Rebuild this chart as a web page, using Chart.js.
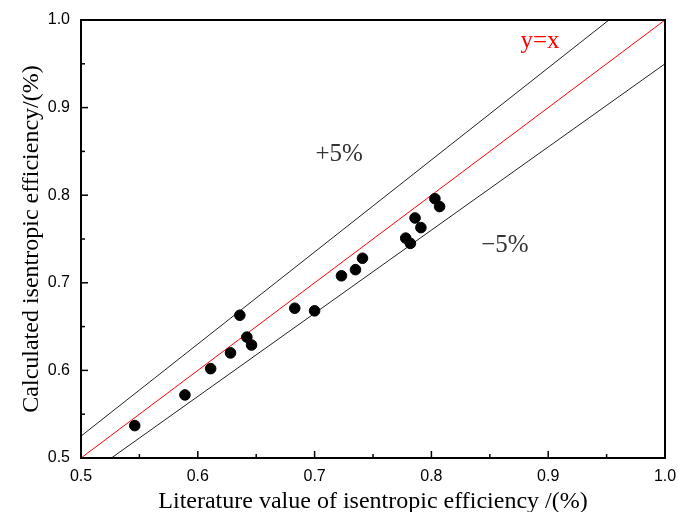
<!DOCTYPE html>
<html>
<head>
<meta charset="utf-8">
<script src="https://cdn.jsdelivr.net/npm/chart.js@4"></script>
<style>
    html, body { margin: 0; padding: 0; background: #fff; }
    #wrap { width: 678px; height: 512px; }
</style>
</head>
<body>
<div id="wrap"><canvas id="chart" width="678" height="512"></canvas></div>
<script>
// Literature vs calculated isentropic efficiency
const literature = [0.546, 0.589, 0.611, 0.628, 0.636, 0.642, 0.646, 0.683, 0.700, 0.723, 0.735, 0.741, 0.778, 0.782, 0.786, 0.791, 0.803, 0.807];
const calculated = [0.537, 0.572, 0.602, 0.620, 0.663, 0.638, 0.629, 0.671, 0.668, 0.708, 0.715, 0.728, 0.751, 0.745, 0.774, 0.763, 0.796, 0.787];

// reference lines: y = x, +5%, -5%
const diagX = [0.5, 1.0];
const diagY = [0.5, 1.0];
const plusX = [0.5, 0.952];
const plusY = [0.525, 1.0];
const minusX = [0.526, 1.0];
const minusY = [0.5, 0.95];

const xTicks = [0.5, 0.6, 0.7, 0.8, 0.9, 1.0];
const yTicks = [0.5, 0.6, 0.7, 0.8, 0.9, 1.0];
const minorTicks = [0.55, 0.65, 0.75, 0.85, 0.95];

// text labels placed in data coordinates
const notes = [
    { text: 'y=x', x: 0.893, y: 0.975, color: '#ff0000' },
    { text: '+5%', x: 0.721, y: 0.846, color: '#333' },
    { text: '\u22125%', x: 0.863, y: 0.743, color: '#333' }
];

const pts = (xs, ys) => xs.map((x, i) => ({ x: x, y: ys[i] }));

// frame, inward ticks and notes
const framePlugin = {
    id: 'frame',
    afterDraw(c) {
        const ctx = c.ctx;
        const a = c.chartArea;
        const xs = c.scales.x, ys = c.scales.y;
        ctx.save();
        ctx.strokeStyle = '#000';
        ctx.lineWidth = 1.5;
        xTicks.forEach(v => {
            const px = xs.getPixelForValue(v);
            ctx.beginPath(); ctx.moveTo(px, a.bottom); ctx.lineTo(px, a.bottom - 7); ctx.stroke();
        });
        minorTicks.forEach(v => {
            const px = xs.getPixelForValue(v);
            ctx.beginPath(); ctx.moveTo(px, a.bottom); ctx.lineTo(px, a.bottom - 4); ctx.stroke();
        });
        yTicks.forEach(v => {
            const py = ys.getPixelForValue(v);
            ctx.beginPath(); ctx.moveTo(a.left, py); ctx.lineTo(a.left + 7, py); ctx.stroke();
        });
        minorTicks.forEach(v => {
            const py = ys.getPixelForValue(v);
            ctx.beginPath(); ctx.moveTo(a.left, py); ctx.lineTo(a.left + 4, py); ctx.stroke();
        });
        ctx.lineWidth = 2;
        ctx.strokeRect(a.left, a.top, a.right - a.left, a.bottom - a.top);

        ctx.font = '25px "Liberation Serif", "Times New Roman", serif';
        ctx.textAlign = 'center';
        ctx.textBaseline = 'middle';
        notes.forEach(n => {
            ctx.fillStyle = n.color;
            ctx.fillText(n.text, xs.getPixelForValue(n.x), ys.getPixelForValue(n.y));
        });
        ctx.restore();
    }
};

const ctx = document.getElementById('chart').getContext('2d');
const chart = new Chart(ctx, {
    type: 'scatter',
    data: {
        datasets: [
            {
                label: 'y=x',
                data: pts(diagX, diagY),
                showLine: true,
                borderColor: '#ff0000',
                borderWidth: 1,
                pointRadius: 0,
                order: 3
            },
            {
                label: '+5%',
                data: pts(plusX, plusY),
                showLine: true,
                borderColor: '#222',
                borderWidth: 1,
                pointRadius: 0,
                order: 3
            },
            {
                label: '-5%',
                data: pts(minusX, minusY),
                showLine: true,
                borderColor: '#222',
                borderWidth: 1,
                pointRadius: 0,
                order: 3
            },
            {
                label: 'data',
                data: pts(literature, calculated),
                backgroundColor: '#000',
                borderColor: '#000',
                pointRadius: 5.3,
                order: 1
            }
        ]
    },
    options: {
        responsive: false,
        animation: false,
        layout: { padding: { top: 20, right: 13, left: 0, bottom: 0 } },
        plugins: {
            legend: { display: false },
            tooltip: { enabled: false }
        },
        scales: {
            x: {
                type: 'linear',
                min: 0.5,
                max: 1.0,
                afterFit: s => { s.height = 54; s.paddingLeft = 0; s.paddingRight = 0; },
                afterBuildTicks: s => { s.ticks = xTicks.map(v => ({ value: v })); },
                grid: { display: false, drawTicks: false },
                border: { display: false },
                ticks: {
                    color: '#000',
                    padding: 9,
                    font: { family: '"Liberation Sans", Arial, sans-serif', size: 16 },
                    callback: v => v.toFixed(1)
                },
                title: {
                    display: true,
                    text: 'Literature value of isentropic efficiency /(%)',
                    color: '#000',
                    padding: { top: 0, bottom: -2 },
                    font: { family: '"Liberation Serif", "Times New Roman", serif', size: 24, lineHeight: 1 }
                }
            },
            y: {
                type: 'linear',
                min: 0.5,
                max: 1.0,
                afterFit: s => { s.width = 81; s.paddingTop = 0; s.paddingBottom = 0; },
                afterBuildTicks: s => { s.ticks = yTicks.map(v => ({ value: v })); },
                grid: { display: false, drawTicks: false },
                border: { display: false },
                ticks: {
                    color: '#000',
                    padding: 11,
                    font: { family: '"Liberation Sans", Arial, sans-serif', size: 16 },
                    callback: v => v.toFixed(1)
                },
                title: {
                    display: true,
                    text: 'Calculated isentropic efficiency/(%)',
                    color: '#000',
                    padding: { top: 20, bottom: 0 },
                    font: { family: '"Liberation Serif", "Times New Roman", serif', size: 24, lineHeight: 1 }
                }
            }
        }
    },
    plugins: [framePlugin]
});
</script>
</body>
</html>
